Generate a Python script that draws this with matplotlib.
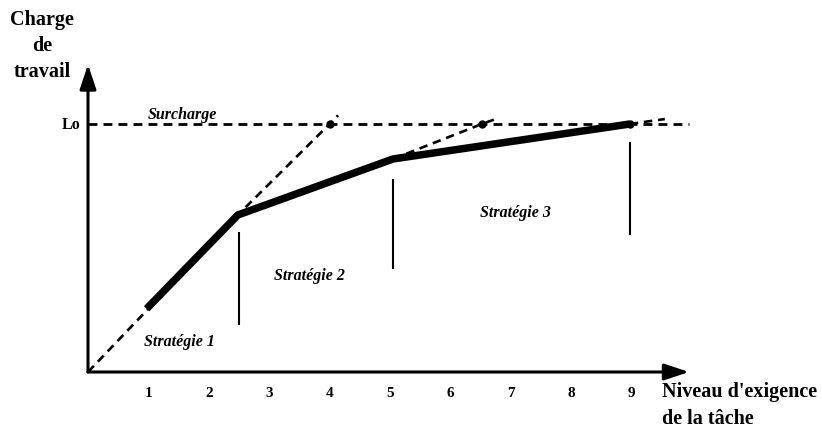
import matplotlib
matplotlib.use("Agg")
import matplotlib.pyplot as plt

# Niveau d'exigence (x) / charge de travail (y, Lo = 10)
charge_x = [0.97, 2.48, 5.05, 8.97]
charge_y = [2.55, 6.33, 8.59, 10.0]

lo_level = 10.0
lo_line_x = [0, 9.95]

# dashed extensions of each strategy up to the overload line
ext1_x = [0, 2.48, 4.0, 4.14]
ext1_y = [0, 6.33, 10.0, 10.35]
ext2_x = [5.05, 6.52, 6.75]
ext2_y = [8.59, 10.0, 10.2]
ext3_x = [8.97, 9.55]
ext3_y = [10.0, 10.2]

overload_x = [4.0, 6.52, 8.97]
overload_y = [10.0, 10.0, 10.0]

# strategy boundaries
bound_x = [2.5, 5.05, 8.97]
bound_lo = [1.9, 4.15, 5.52]
bound_hi = [5.65, 7.78, 9.27]

ticks = [1, 2, 3, 4, 5, 6, 7, 8, 9]

labels = ["Stratégie 1", "Stratégie 2", "Stratégie 3"]
label_x = [1.52, 3.66, 7.07]
label_y = [1.25, 3.9, 6.45]

plt.rcParams["font.family"] = ["Liberation Serif", "DejaVu Serif"]

fig = plt.figure(figsize=(8.22, 4.35), dpi=100)
ax = fig.add_axes([0, 0, 1, 1])
ax.set_xlim(-88 / 60.4, (822 - 88) / 60.4)
ax.set_ylim((373 - 435) / 24.8, 373 / 24.8)
ax.axis("off")

# axes with arrows
ax.annotate("", xy=(0, 12.4), xytext=(0, 0),
            arrowprops=dict(arrowstyle="-|>,head_length=1.5,head_width=0.5",
                            lw=2.2, color="black", shrinkA=0, shrinkB=0))
ax.annotate("", xy=(9.95, 0), xytext=(0, 0),
            arrowprops=dict(arrowstyle="-|>,head_length=1.5,head_width=0.5",
                            lw=2.2, color="black", shrinkA=0, shrinkB=0))

# overload level
ax.plot(lo_line_x, [lo_level, lo_level], color="black", lw=2.0,
        linestyle=(0, (3.2, 2.2)))
for ex, ey in [(ext1_x, ext1_y), (ext2_x, ext2_y), (ext3_x, ext3_y)]:
    ax.plot(ex, ey, color="black", lw=1.9, linestyle=(0, (3.2, 2.2)))
ax.plot(overload_x, overload_y, "o", color="black", markersize=5)

# workload curve
ax.plot(charge_x, charge_y, color="black", lw=5.4, solid_capstyle="butt",
        solid_joinstyle="round")

# strategy boundaries
ax.vlines(bound_x, bound_lo, bound_hi, color="black", lw=1.5)

for t in ticks:
    ax.text(t, -0.55, str(t), ha="center", va="top", fontsize=11,
            fontweight="bold")
ax.text(-0.12, lo_level, "Lo", ha="right", va="center", fontsize=11.5,
        fontweight="bold")

for lab, lx, ly in zip(labels, label_x, label_y):
    ax.text(lx, ly, lab, ha="center", va="center", fontsize=11.5,
            fontweight="bold", style="italic")
ax.text(1.56, 10.4, "Surcharge", ha="center", va="center", fontsize=11.5,
        fontweight="bold", style="italic")

ax.text(-0.76, 13.2, "Charge\nde\ntravail", ha="center", va="center",
        fontsize=14.5, fontweight="bold", linespacing=1.4)
ax.text(9.5, -1.3, "Niveau d'exigence\nde la tâche", ha="left", va="center",
        fontsize=14.5, fontweight="bold", linespacing=1.45)

fig.savefig("out.png", dpi=100)
